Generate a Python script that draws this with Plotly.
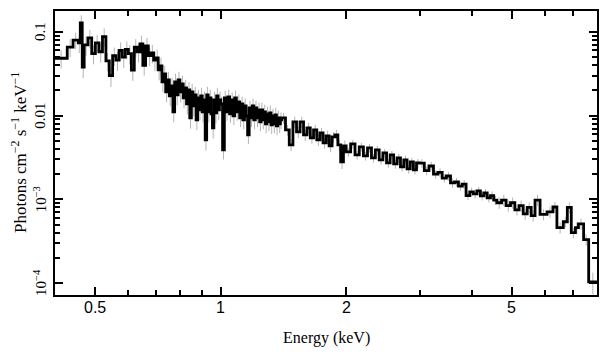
import numpy as np
import plotly.graph_objects as go

# Bin edges (keV)
edges = [0.400, 0.428, 0.442, 0.455, 0.460, 0.465, 0.470,
         0.48, 0.49, 0.50, 0.51, 0.52, 0.53, 0.54, 0.55, 0.56, 0.57, 0.58, 0.59, 0.60,
         0.61, 0.62, 0.63, 0.64, 0.65, 0.66, 0.67, 0.68, 0.69, 0.70,
         0.7075, 0.715, 0.7225, 0.73, 0.7375, 0.745, 0.7525, 0.76, 0.7675, 0.775,
         0.7825, 0.79, 0.7975, 0.805, 0.8125, 0.82, 0.8275, 0.835, 0.8425, 0.85,
         0.8575, 0.865, 0.8725, 0.88, 0.8875, 0.895, 0.9025, 0.91, 0.9175, 0.925,
         0.9325, 0.94, 0.9475, 0.955, 0.9625, 0.97, 0.9775, 0.985, 0.9925, 1.00,
         1.01, 1.02, 1.03, 1.04, 1.05, 1.06, 1.07, 1.08, 1.09, 1.10,
         1.11, 1.12, 1.13, 1.14, 1.15, 1.16, 1.17, 1.18, 1.19, 1.20,
         1.21, 1.22, 1.23, 1.24, 1.25, 1.26, 1.27, 1.28, 1.29, 1.30,
         1.31, 1.32, 1.33, 1.34, 1.35, 1.36, 1.37, 1.38, 1.39, 1.40,
         1.43, 1.46, 1.49, 1.52, 1.55, 1.58, 1.61, 1.64, 1.67, 1.70,
         1.73, 1.76, 1.79, 1.82, 1.85, 1.88, 1.91, 1.94, 1.97, 2.00,
         2.05, 2.10, 2.15, 2.20, 2.25, 2.30, 2.35, 2.40, 2.45, 2.50,
         2.55, 2.60, 2.65, 2.70, 2.75, 2.80, 2.85, 2.90, 2.95, 3.00,
         3.08, 3.16, 3.24, 3.32, 3.40, 3.48, 3.56, 3.64, 3.72, 3.80,
         3.88, 3.96, 4.04, 4.12, 4.20, 4.28, 4.36, 4.44, 4.52, 4.60,
         4.72, 4.84, 4.96, 5.08, 5.20, 5.32, 5.44, 5.56, 5.68, 5.84,
         6.07, 6.27, 6.41, 6.64, 6.79, 6.94, 7.10, 7.22, 7.43, 7.64, 8.00]

# Photon flux per bin (photons cm^-2 s^-1 keV^-1)
flux = [0.0485, 0.066, 0.080, 0.074, 0.128, 0.038,
        0.070, 0.085, 0.055, 0.074, 0.058, 0.088, 0.045, 0.030, 0.052, 0.046,
        0.060, 0.050, 0.062, 0.055, 0.035, 0.066, 0.058, 0.072, 0.040, 0.068,
        0.052, 0.056, 0.046,
        0.0489, 0.0352, 0.0393, 0.0253, 0.0315, 0.0192, 0.0267, 0.0172, 0.0226, 0.0111,
        0.0253, 0.0177, 0.0267, 0.0192, 0.0239, 0.0163, 0.0214, 0.0138, 0.0203, 0.00939,
        0.0192, 0.0131, 0.0177, 0.00888, 0.0163, 0.0117, 0.0172, 0.0111, 0.0154, 0.00513,
        0.0177, 0.0111, 0.0163, 0.0105, 0.00713, 0.0154, 0.0108, 0.0172, 0.0117, 0.0154,
        0.0138, 0.00389, 0.0163, 0.0111, 0.0167, 0.0105, 0.0154, 0.00992, 0.0163, 0.0111,
        0.0146, 0.00939, 0.0138, 0.00888, 0.0131, 0.00992, 0.00588, 0.0124, 0.00939, 0.0131,
        0.00888, 0.0124, 0.00939, 0.0117, 0.00841, 0.0117, 0.00888, 0.0111, 0.00796, 0.0105,
        0.00841, 0.0108, 0.00774, 0.00992, 0.00796, 0.0102, 0.00753, 0.00939, 0.00796, 0.00888,
        0.00939, 0.00675, 0.00447, 0.00841, 0.00639, 0.00841, 0.00588, 0.00713, 0.00541, 0.00675,
        0.00513, 0.00621, 0.00472, 0.00572, 0.00435, 0.00556, 0.00588, 0.00447, 0.0028, 0.00435,
        0.00368, 0.00459, 0.00339, 0.00423, 0.0033, 0.00411, 0.00312, 0.00389, 0.00296, 0.00358,
        0.00272, 0.00339, 0.00265, 0.00312, 0.00244, 0.00296, 0.00231, 0.0028, 0.00225, 0.00272,
        0.0027, 0.0022, 0.0025, 0.0020, 0.0021, 0.00179, 0.0019, 0.00157, 0.00161, 0.00144,
        0.00152, 0.00111, 0.00123, 0.00116, 0.00126, 0.00110, 0.00119, 0.00104, 0.00111, 0.00098,
        0.00091, 0.00098, 0.00084, 0.00091, 0.00075, 0.00084, 0.00067, 0.00080, 0.00064, 0.00098,
        0.00066, 0.00071, 0.00081, 0.00046, 0.00054, 0.00080, 0.00040, 0.00046, 0.00051, 0.00033,
        0.000103]

# 1-sigma errors per bin
err = [0.012, 0.016, 0.018, 0.018, 0.030, 0.010,
       0.018, 0.021, 0.014, 0.018, 0.015, 0.022, 0.011, 0.008, 0.013, 0.012,
       0.015, 0.013, 0.015, 0.014, 0.009, 0.016, 0.015, 0.018, 0.010, 0.017,
       0.013, 0.014, 0.012,
       0.0122, 0.0088, 0.0098, 0.0063, 0.0079, 0.0048, 0.0067, 0.0043, 0.0057, 0.0028,
       0.0063, 0.0044, 0.0067, 0.0048, 0.0060, 0.0041, 0.0054, 0.0035, 0.0051, 0.0024,
       0.0048, 0.0033, 0.0044, 0.0022, 0.0041, 0.0029, 0.0043, 0.0028, 0.0039, 0.0013,
       0.0044, 0.0028, 0.0041, 0.0026, 0.0018, 0.0039, 0.0027, 0.0043, 0.0029, 0.0039,
       0.0030, 0.0009, 0.0036, 0.0024, 0.0037, 0.0023, 0.0034, 0.0022, 0.0036, 0.0024,
       0.0032, 0.0021, 0.0030, 0.0020, 0.0029, 0.0022, 0.0013, 0.0027, 0.0021, 0.0029,
       0.0020, 0.0027, 0.0021, 0.0026, 0.0019, 0.0026, 0.0020, 0.0024, 0.0018, 0.0023,
       0.0019, 0.0024, 0.0017, 0.0022, 0.0018, 0.0022, 0.0017, 0.0021, 0.0018, 0.0020,
       0.0014, 0.0010, 0.0007, 0.0013, 0.0010, 0.0013, 0.0009, 0.0011, 0.0008, 0.0010,
       0.0008, 0.0009, 0.0007, 0.0009, 0.0007, 0.0008, 0.0009, 0.0007, 0.0005, 0.0007,
       0.00044, 0.00055, 0.00041, 0.00051, 0.0004, 0.00049, 0.00037, 0.00047, 0.00036, 0.00043,
       0.00033, 0.00041, 0.00032, 0.00037, 0.00029, 0.00036, 0.00028, 0.00034, 0.00027, 0.00033,
       0.00032, 0.00026, 0.0003, 0.00024, 0.00025, 0.00021, 0.00023, 0.00019, 0.00019, 0.00017,
       0.00018, 0.00013, 0.00015, 0.00014, 0.00015, 0.00013, 0.00014, 0.00012, 0.00013, 0.00012,
       0.00014, 0.00015, 0.00013, 0.00014, 0.00011, 0.00013, 0.0001, 0.00012, 0.0001, 0.00015,
       0.0001, 0.00011, 0.00012, 0.00007, 0.00008, 0.00012, 0.00006, 0.00007, 0.00008, 0.00005,
       0.00003]

x_ticks = [0.5, 1, 2, 5]
x_ticktext = ["0.5", "1", "2", "5"]
x_minor = [0.6, 0.7, 0.8, 0.9, 3, 4, 6, 7]
y_ticks = [1e-4, 1e-3, 0.01, 0.1]
y_ticktext = ["10<sup>−4</sup>", "10<sup>−3</sup>", "0.01", "0.1"]
y_minor = [m * d for d in (1e-4, 1e-3, 1e-2) for m in range(2, 10)]
x_title = "Energy (keV)"
y_title = "Photons cm<sup>−2</sup> s<sup>−1</sup> keV<sup>−1</sup>"

X_RANGE = [np.log10(0.4), np.log10(8.0)]
Y_RANGE = [-4.143, -0.750]

lo = np.array(edges[:-1])
hi = np.array(edges[1:])
centers = np.sqrt(lo * hi)

fig = go.Figure()
fig.add_trace(go.Scatter(
    x=centers, y=flux, mode="markers",
    marker=dict(size=1, color="rgba(0,0,0,0)"),
    error_y=dict(type="data", array=err, color="#b4b4b4", thickness=1, width=0),
    showlegend=False, hoverinfo="skip"))
fig.add_trace(go.Scatter(
    x=edges, y=flux + [flux[-1]], mode="lines",
    line=dict(color="black", width=2.8, shape="hv"),
    showlegend=False))

axis_common = dict(
    type="log", showgrid=False, zeroline=False, automargin=False,
    showline=True, linecolor="black", linewidth=2, mirror="ticks",
    ticks="inside", tickcolor="black", ticklen=8, tickwidth=2,
    showticklabels=False,
)

annotations = []
for v, t in zip(x_ticks, x_ticktext):
    annotations.append(dict(
        x=np.log10(v), xref="x", y=0, yref="paper", yshift=-12,
        xanchor="center", yanchor="middle", showarrow=False, text=t,
        font=dict(family="Liberation Sans", size=16, color="black")))
for v, t in zip(y_ticks, y_ticktext):
    annotations.append(dict(
        x=0, xref="paper", xshift=-15, y=np.log10(v), yref="y",
        xanchor="center", yanchor="middle", showarrow=False, text=t,
        textangle=-90,
        font=dict(family="Liberation Serif", size=15, color="black")))
annotations.append(dict(
    x=0.5, xref="paper", y=0, yref="paper", yshift=-43,
    xanchor="center", yanchor="middle", showarrow=False, text=x_title,
    font=dict(family="Liberation Serif", size=16, color="black")))
annotations.append(dict(
    x=0, xref="paper", xshift=-36, y=0.5, yref="paper",
    xanchor="center", yanchor="middle", showarrow=False, text=y_title,
    textangle=-90,
    font=dict(family="Liberation Serif", size=17, color="black")))

# The page body adds an 8 px margin, so the figure is sized to fit inside it.
fig.update_layout(
    width=593, height=341,
    margin=dict(l=47, r=4, t=3, b=54),
    paper_bgcolor="white", plot_bgcolor="white",
    xaxis=dict(
        **axis_common,
        range=X_RANGE,
        tickvals=x_ticks,
        minor=dict(tickvals=x_minor, ticks="inside", ticklen=5, tickwidth=2,
                   tickcolor="black", showgrid=False),
    ),
    yaxis=dict(
        **axis_common,
        range=Y_RANGE,
        tickvals=y_ticks,
        minor=dict(tickvals=y_minor, ticks="inside", ticklen=5, tickwidth=2,
                   tickcolor="black", showgrid=False),
    ),
    annotations=annotations,
)

fig.write_html("out.html")
